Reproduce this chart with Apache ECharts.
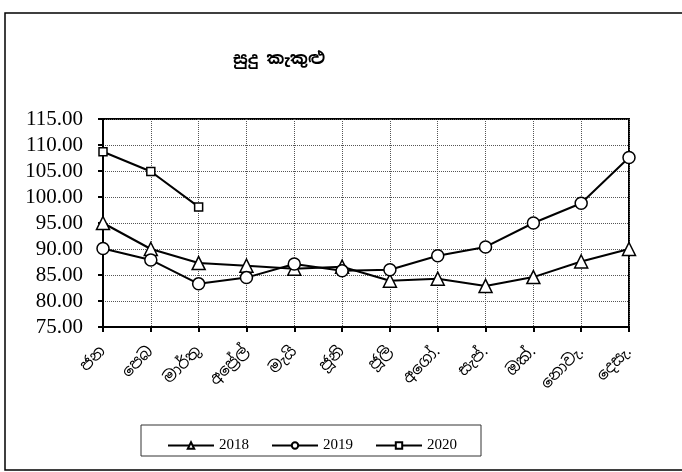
<!DOCTYPE html>
<html>
<head>
<meta charset="utf-8">
<script src="https://cdn.jsdelivr.net/npm/echarts@6/dist/echarts.min.js"></script>
<style>
  html, body { margin: 0; padding: 0; background: #fff; }
  #chart { width: 682px; height: 472px; }
</style>
</head>
<body>
<div id="chart"></div>
<script>
const months = ['ජන', 'පෙබ', 'මාර්තු', 'අප්‍රේල්', 'මැයි', 'ජූනි', 'ජූලි', 'අගෝ.', 'සැප්.', 'ඔක්.', 'නොවැ.', 'දෙසැ.']
const data2018 = [95.0, 90.0, 87.3, 86.8, 86.2, 86.6, 83.9, 84.3, 82.9, 84.6, 87.6, 90.0]
const data2019 = [90.1, 87.9, 83.3, 84.5, 87.1, 85.8, 86.0, 88.7, 90.4, 95.0, 98.8, 107.6]
const data2020 = [108.7, 104.9, 98.1]

const serif = '"Liberation Serif", "Times New Roman", serif'
const sinhala = '"Noto Sans Sinhala", "Iskoola Pota", "Liberation Serif", serif'

const lineSeries = (name, data, symbol, size) => ({
  name: name,
  type: 'line',
  data: data,
  symbol: symbol,
  symbolSize: size,
  showSymbol: true,
  lineStyle: { color: '#000', width: 2 },
  itemStyle: { color: '#fff', borderColor: '#000', borderWidth: 1.5 },
  emphasis: { disabled: true },
  animation: false,
})

const chart = echarts.init(document.getElementById('chart'))
chart.setOption({
  backgroundColor: '#fff',
  animation: false,
  title: {
    text: 'සුදු කැකුළු',
    left: 274,
    top: 46,
    textAlign: 'center',
    textStyle: { fontFamily: sinhala, fontSize: 17, fontWeight: 'bold', color: '#000' },
  },
  graphic: [
    {
      type: 'rect',
      shape: { x: 5, y: 13, width: 690, height: 457 },
      style: { fill: null, stroke: '#000', lineWidth: 1.5 },
      z: -1,
    },
    {
      type: 'rect',
      shape: { x: 141, y: 425, width: 340, height: 31 },
      style: { fill: null, stroke: '#333', lineWidth: 1 },
    },
  ],
  grid: { left: 103, right: 53, top: 119, bottom: 145, show: true, borderColor: '#000', borderWidth: 2 },
  xAxis: {
    type: 'category',
    data: months,
    boundaryGap: false,
    axisLine: { lineStyle: { color: '#000', width: 2 } },
    axisTick: { show: true, length: 5, lineStyle: { color: '#000', width: 2 } },
    axisLabel: { rotate: 45, color: '#000', fontFamily: sinhala, fontSize: 16, margin: 22, interval: 0 },
    splitLine: { show: true, lineStyle: { color: '#555', type: 'dotted', width: 1 } },
  },
  yAxis: {
    type: 'value',
    min: 75,
    max: 115,
    interval: 5,
    axisLine: { show: true, lineStyle: { color: '#000', width: 2 } },
    axisTick: { show: true, length: 5, lineStyle: { color: '#000', width: 2 } },
    axisLabel: {
      color: '#000', fontFamily: serif, fontSize: 21, margin: 20,
      formatter: v => v.toFixed(2),
    },
    splitLine: { show: true, lineStyle: { color: '#555', type: 'dotted', width: 1 } },
  },
  legend: {
    left: 162,
    top: 433,
    itemGap: 22,
    itemWidth: 46,
    itemHeight: 8,
    textStyle: { fontFamily: serif, fontSize: 15, color: '#000' },
    data: ['2018', '2019', '2020'],
  },
  series: [
    lineSeries('2018', data2018, 'triangle', 13),
    lineSeries('2019', data2019, 'circle', 12),
    lineSeries('2020', data2020, 'rect', 8),
  ],
})
</script>
</body>
</html>
